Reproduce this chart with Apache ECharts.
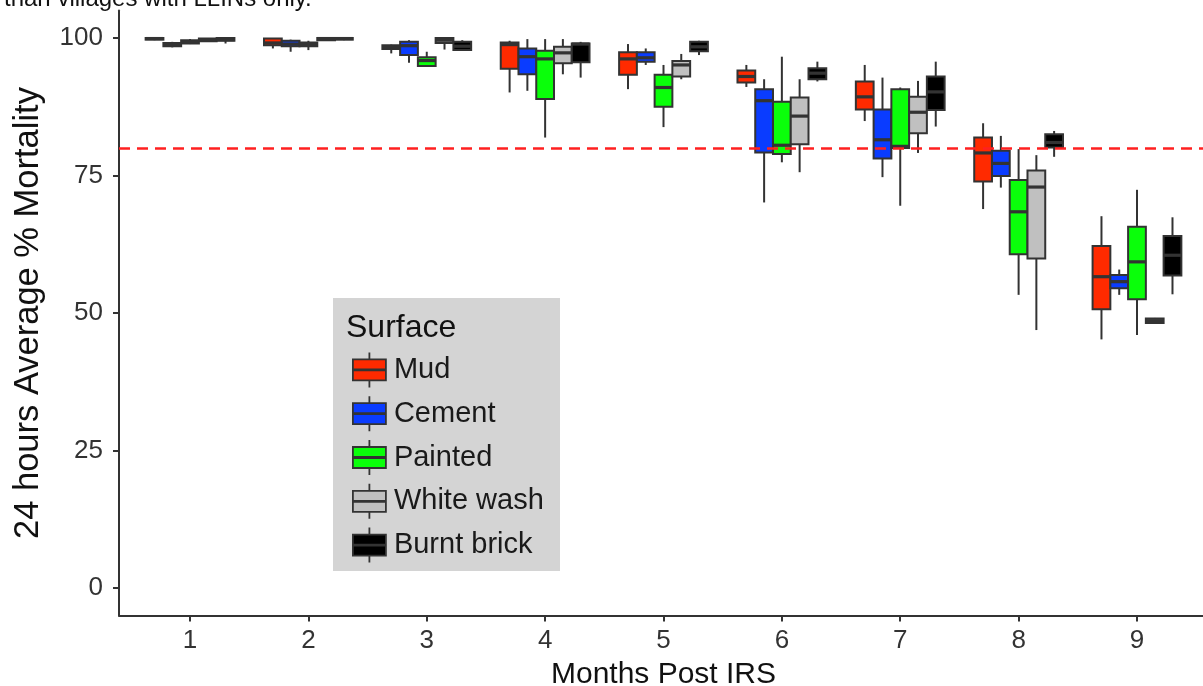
<!DOCTYPE html>
<html>
<head>
<meta charset="utf-8">
<script src="https://cdn.jsdelivr.net/npm/echarts@6/dist/echarts.min.js"></script>
<style>html,body{margin:0;padding:0;background:#fff;overflow:hidden;}#main{width:1203px;height:686px;}</style>
</head>
<body>
<div id="main"></div>
<script>
// ---- data (min, q1, median, q3, max) per month ----
const months = [1, 2, 3, 4, 5, 6, 7, 8, 9];
const surfaces = ['Mud', 'Cement', 'Painted', 'White wash', 'Burnt brick'];
const mud = [
  [99.6, 99.7, 99.9, 100, 100],
  [98.1, 98.7, 99.1, 99.9, 100],
  [97.2, 98.0, 98.3, 98.7, 98.8],
  [90.1, 94.4, 98.8, 99.2, 99.5],
  [90.7, 93.3, 96.2, 97.4, 98.9],
  [91.1, 91.9, 93.0, 94.1, 95.1],
  [84.9, 87.0, 89.3, 92.1, 95.1],
  [68.9, 73.9, 79.1, 81.9, 84.5],
  [45.2, 50.7, 56.6, 62.2, 67.6]
];
const cement = [
  [98.3, 98.5, 98.8, 99.1, 99.3],
  [97.5, 98.5, 98.9, 99.5, 99.7],
  [95.5, 96.9, 98.6, 99.3, 99.6],
  [90.4, 93.4, 96.6, 98.1, 99.8],
  [95.1, 95.7, 96.4, 97.4, 98.1],
  [70.1, 79.2, 88.6, 90.7, 92.5],
  [74.7, 78.1, 81.5, 87.0, 92.8],
  [72.8, 74.9, 77.2, 79.5, 82.2],
  [53.3, 54.5, 55.7, 56.9, 57.9]
];
const painted = [
  [98.9, 99.0, 99.3, 99.6, 99.8],
  [97.8, 98.5, 98.8, 99.2, 99.5],
  [94.8, 94.9, 95.9, 96.5, 97.5],
  [81.9, 88.9, 96.2, 97.7, 99.8],
  [83.8, 87.5, 91.0, 93.3, 95.1],
  [77.4, 78.9, 80.5, 88.4, 96.6],
  [69.5, 80.0, 80.3, 90.7, 91.0],
  [53.3, 60.7, 68.4, 74.2, 79.8],
  [46.0, 52.5, 59.3, 65.7, 72.4]
];
const whiteWash = [
  [99.3, 99.4, 99.7, 99.9, 100],
  [99.5, 99.6, 99.9, 100, 100],
  [97.9, 99.1, 99.6, 100, 100],
  [93.4, 95.4, 97.3, 98.4, 99.8],
  [92.5, 93.0, 95.1, 95.8, 97.1],
  [75.6, 80.7, 85.8, 89.2, 92.5],
  [79.1, 82.7, 86.5, 89.3, 92.2],
  [46.9, 59.9, 72.9, 75.9, 78.7],
  [48.1, 48.2, 48.6, 49.0, 49.1]
];
const burntBrick = [
  [99.0, 99.5, 99.7, 100, 100],
  [99.6, 99.7, 99.9, 100, 100],
  [97.8, 97.8, 98.5, 99.3, 99.6],
  [92.8, 95.6, 98.9, 99.0, 99.3],
  [96.9, 97.6, 98.4, 99.3, 99.5],
  [92.1, 92.5, 93.6, 94.5, 95.7],
  [83.9, 86.9, 90.2, 93.0, 95.7],
  [78.4, 80.1, 81.0, 82.5, 83.1],
  [53.4, 56.8, 60.5, 64.0, 67.4]
];
const threshold = 80;
const yTicks = [0, 25, 50, 75, 100];
const xTicks = months;

// ---- styles ----
const seriesValues = [mud, cement, painted, whiteWash, burntBrick];
const fills = ['#ff2a00', '#0a3cff', '#0aff0a', '#c0c0c0', '#000000'];
const edge = '#333333';
const BOX_W = 0.15;      // width of one box in month units
const BOX_STEP = 0.15;   // dodge step

function makeRenderItem(k) {
  return function (params, api) {
    const x = api.value(0) + (k - 2) * BOX_STEP;
    const lo = api.coord([x, api.value(1)]);
    const q1 = api.coord([x, api.value(2)]);
    const md = api.coord([x, api.value(3)]);
    const q3 = api.coord([x, api.value(4)]);
    const hi = api.coord([x, api.value(5)]);
    const w = api.size([BOX_W, 0])[0];
    return {
      type: 'group',
      children: [
        { type: 'line', shape: { x1: hi[0], y1: hi[1], x2: q3[0], y2: q3[1] },
          style: { stroke: edge, lineWidth: 2 } },
        { type: 'line', shape: { x1: q1[0], y1: q1[1], x2: lo[0], y2: lo[1] },
          style: { stroke: edge, lineWidth: 2 } },
        { type: 'rect', shape: { x: q3[0] - w / 2, y: q3[1], width: w, height: q1[1] - q3[1] },
          style: { fill: fills[k], stroke: edge, lineWidth: 2 } },
        { type: 'line', shape: { x1: md[0] - w / 2, y1: md[1], x2: md[0] + w / 2, y2: md[1] },
          style: { stroke: edge, lineWidth: 3.2 } }
      ]
    };
  };
}

const KEY_PATH = 'path://M16.5,0L16.5,7M0,7L33,7L33,17L0,17ZM0,18L33,18L33,28L0,28ZM16.5,28L16.5,35';

const series = surfaces.map(function (name, k) {
  const s = {
    name: name,
    type: 'custom',
    renderItem: makeRenderItem(k),
    encode: { x: 0, y: [1, 2, 3, 4, 5] },
    data: months.map(function (m, i) { return [m].concat(seriesValues[k][i]); }),
    z: 2
  };
  if (k === 0) {
    s.markLine = {
      silent: true,
      symbol: ['none', 'none'],
      label: { show: false },
      lineStyle: { color: '#ff2020', type: [11, 7], width: 2.5, opacity: 1 },
      data: [{ yAxis: threshold }],
      z: 10
    };
  }
  return s;
});

const chart = echarts.init(document.getElementById('main'));
chart.setOption({
  animation: false,
  backgroundColor: '#ffffff',
  grid: { left: 119, top: 10.5, width: 1089, height: 605, containLabel: false, outerBoundsMode: 'none' },
  xAxis: {
    type: 'value', min: 0.4, max: 9.6,
    name: 'Months Post IRS', nameLocation: 'middle', nameGap: 44,
    nameTextStyle: { fontSize: 30, color: '#111', fontFamily: 'Liberation Sans' },
    splitLine: { show: false },
    axisLine: { show: true, onZero: false, lineStyle: { color: edge, width: 2 } },
    axisTick: { show: true, customValues: xTicks, length: 6, lineStyle: { color: edge, width: 2 } },
    axisLabel: { customValues: xTicks, fontSize: 26, color: '#333', margin: 12, fontFamily: 'Liberation Sans' }
  },
  yAxis: {
    type: 'value', min: -5, max: 105,
    name: '24 hours Average % Mortality', nameLocation: 'middle', nameGap: 73,
    nameTextStyle: { fontSize: 34.5, color: '#111', fontFamily: 'Liberation Sans' },
    splitLine: { show: false },
    axisLine: { show: true, onZero: false, lineStyle: { color: edge, width: 2 } },
    axisTick: { show: true, customValues: yTicks, length: 6, lineStyle: { color: edge, width: 2 } },
    axisLabel: { customValues: yTicks, fontSize: 26, color: '#333', margin: 16, fontFamily: 'Liberation Sans' }
  },
  legend: {
    orient: 'vertical',
    left: 352, top: 351.5,
    padding: 0,
    itemWidth: 33, itemHeight: 35, itemGap: 7,
    textStyle: { fontSize: 29, color: '#1a1a1a', fontFamily: 'Liberation Sans', padding: [0, 0, 0, 3] },
    data: surfaces.map(function (name, k) {
      return { name: name, icon: KEY_PATH,
        itemStyle: { color: fills[k], borderColor: edge, borderWidth: 1.8 } };
    })
  },
  graphic: [
    { type: 'rect', z: -1, silent: true,
      shape: { x: 333, y: 298, width: 227, height: 273 },
      style: { fill: '#d4d4d4' } },
    { type: 'text', z: 1, silent: true, x: 346, y: 328,
      style: { text: 'Surface', fontSize: 32, fill: '#111', fontFamily: 'Liberation Sans', verticalAlign: 'middle' } },
    { type: 'text', silent: true, x: 4, y: 11,
      style: { text: 'than villages with LLINs only.', fontSize: 24, fill: '#111', fontFamily: 'Liberation Sans', verticalAlign: 'bottom' } }
  ],
  series: series
});
</script>
</body>
</html>
